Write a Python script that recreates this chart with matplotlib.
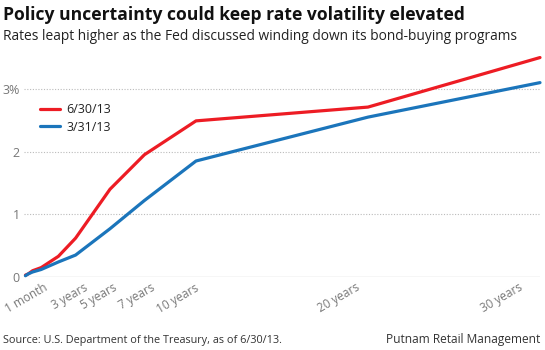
import matplotlib
matplotlib.use("Agg")
import matplotlib.pyplot as plt
from matplotlib.transforms import ScaledTranslation

maturity_years = [1/12, 0.25, 0.5, 1, 2, 3, 5, 7, 10, 20, 30]
rates_jun = [0.03, 0.05, 0.10, 0.15, 0.33, 0.62, 1.40, 1.95, 2.49, 2.71, 3.50]
rates_mar = [0.02, 0.05, 0.08, 0.12, 0.24, 0.35, 0.77, 1.22, 1.85, 2.55, 3.10]
series_labels = ["6/30/13", "3/31/13"]
tick_years = [1/12, 3, 5, 7, 10, 20, 30]
tick_labels = ["1 month", "3 years", "5 years", "7 years", "10 years", "20 years", "30 years"]
y_ticks = [0, 1, 2, 3]
y_tick_labels = ["0", "1", "2", "3%"]

plt.rcParams['font.family'] = ['Open Sans', 'DejaVu Sans']

W, H = 545, 350
fig = plt.figure(figsize=(W/100, H/100), dpi=100)
ax = fig.add_axes([24/W, (H-277)/H, 516/W, 3.6*62.7/H])
ax.set_xlim(0, 30)
ax.set_ylim(0, 3.6)

red = "#ED1C24"
blue = "#1B75BB"
ax.plot(maturity_years, rates_jun, color=red, lw=2.3, clip_on=False, label=series_labels[0], zorder=3, solid_capstyle='round')
ax.plot(maturity_years, rates_mar, color=blue, lw=2.3, clip_on=False, label=series_labels[1], zorder=3, solid_capstyle='round')

for y in y_ticks[1:]:
    ax.axhline(y, color="#BBBBBB", lw=0.8, ls=(0, (1, 1.5)), zorder=1)
ax.axhline(0, color="#BBBBBB", lw=0.9, zorder=1)

for s in ax.spines.values():
    s.set_visible(False)
ax.set_yticks(y_ticks)
ax.set_yticklabels(y_tick_labels, color="#777777", fontsize=9)
ax.tick_params(axis='y', length=0, pad=3)
ax.set_xticks(tick_years)
ax.set_xticklabels(tick_labels, rotation=30, ha='right', rotation_mode='anchor', color="#777777", fontsize=8.5)
ax.tick_params(axis='x', length=0, pad=3)
label_shift_px = [18, 8, 3, 6, -1, -13, -22]
for lab, dx in zip(ax.get_xticklabels(), label_shift_px):
    lab.set_transform(lab.get_transform() + ScaledTranslation(dx/100, 0, fig.dpi_scale_trans))

leg = ax.legend(loc='upper left', bbox_to_anchor=(0.01, 0.82), frameon=False, fontsize=9,
                handlelength=1.6, handletextpad=0.5, labelspacing=0.35)
for t in leg.get_texts():
    t.set_color("#222222")

fig.text(3/W, 1 - 15/H, "Policy uncertainty could keep rate volatility elevated", fontsize=12.6, fontweight='bold', va='center', ha='left', color="#111111")
fig.text(3/W, 1 - 36/H, "Rates leapt higher as the Fed discussed winding down its bond-buying programs", fontsize=9.9, va='center', ha='left', color="#222222")
fig.text(3/W, 1 - 340/H, "Source: U.S. Department of the Treasury, as of 6/30/13.", fontsize=7.8, va='center', ha='left', color="#333333")
fig.text(540/W, 1 - 340/H, "Putnam Retail Management", fontsize=8.6, va='center', ha='right', color="#333333")

fig.savefig("out.png", dpi=100)
